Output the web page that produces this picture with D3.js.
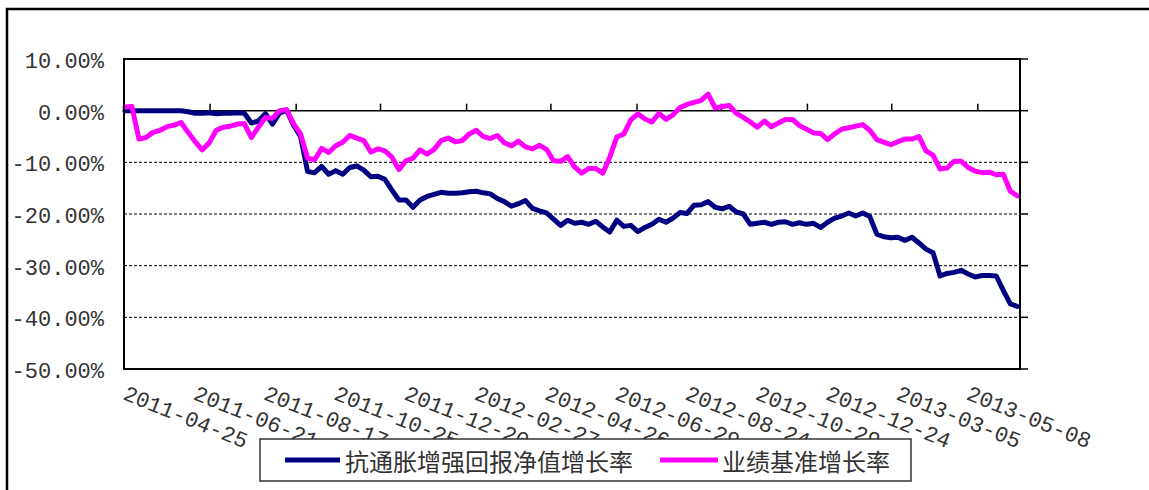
<!DOCTYPE html>
<html>
<head>
<meta charset="utf-8">
<script src="https://cdn.jsdelivr.net/npm/d3@7/dist/d3.min.js"></script>
<style>
  body { margin: 0; background: #fff; }
  svg { display: block; }
</style>
</head>
<body>
<div id="chart"></div>
<script>
// series names (legend)
const seriesNames = ['抗通胀增强回报净值增长率', '业绩基准增长率'];
const seriesColors = ['#000080', '#ff00ff'];

// category axis: trading days, a label every 40 days
const dateLabels = [
  '2011-04-25', '2011-06-21', '2011-08-17', '2011-10-25', '2011-12-20',
  '2012-02-27', '2012-04-26', '2012-06-29', '2012-08-24', '2012-10-29',
  '2012-12-24', '2013-03-05', '2013-05-08'
];
const N_DAYS = 510;
const LABEL_EVERY = 40;
const SAMPLE_EVERY = 4;
const tickDays = [49, 98, 146, 195, 243, 292, 340, 389, 437, 486];

const yTicks = [10, 0, -10, -20, -30, -40, -50];

// growth in %, one value every 4 trading days
const navGrowth = [
  0, 0, 0, 0, 0, 0, 0, 0, 0, -0.2,
  -0.5, -0.5, -0.4, -0.6, -0.5, -0.5, -0.4, -0.5, -2.4, -2.0,
  -0.6, -2.6, -0.5, 0.1, -2.8, -5, -11.8, -12, -10.8, -12.3,
  -11.6, -12.3, -11, -10.7, -11.5, -12.8, -12.7, -13.3, -15.4, -17.3,
  -17.3, -18.7, -17.3, -16.6, -16.2, -15.8, -16, -16, -15.9, -15.7,
  -15.6, -15.9, -16.1, -17, -17.6, -18.5, -18, -17.4, -18.9, -19.4,
  -19.8, -21, -22.2, -21.2, -21.8, -21.6, -22, -21.4, -22.5, -23.5,
  -21.2, -22.4, -22.2, -23.4, -22.6, -22, -21, -21.6, -20.8, -19.7,
  -19.9, -18.3, -18.2, -17.6, -18.7, -19, -18.5, -19.6, -20, -22,
  -21.8, -21.6, -22, -21.6, -21.5, -22, -21.7, -22, -21.8, -22.6,
  -21.6, -20.8, -20.4, -19.8, -20.4, -19.8, -20.5, -23.9, -24.4, -24.6,
  -24.5, -25.1, -24.5, -25.6, -26.8, -27.5, -32, -31.5, -31.3, -30.9,
  -31.6, -32.2, -31.9, -31.9, -32, -34.8, -37.4, -37.9
];
const benchGrowth = [
  0.7, 0.8, -5.5, -5.2, -4.2, -3.8, -3.1, -2.8, -2.3, -4.2,
  -6, -7.6, -6.2, -3.8, -3.2, -3, -2.6, -2.5, -5.2, -3.2,
  -1.3, -1.5, 0, 0.2, -2.5, -4.5, -9.2, -9.5, -7.3, -8.1,
  -6.8, -6.1, -4.8, -5.3, -5.8, -8, -7.4, -7.8, -9, -11.4,
  -9.7, -9.2, -7.6, -8.4, -7.5, -5.8, -5.3, -6, -5.8, -4.5,
  -3.8, -5, -5.4, -4.8, -6.2, -6.8, -5.9, -7, -7.4, -6.7,
  -7.5, -9.7, -9.8, -8.9, -10.9, -12.1, -11.2, -11.2, -12.1, -9,
  -5.1, -4.5, -1.8, -0.6, -1.6, -2.2, -0.5, -1.7, -0.8, 0.6,
  1.2, 1.6, 2.0, 3.2, 0.5, 0.8, 1.0, -0.5, -1.3, -2.2,
  -3.2, -2, -3.1, -2.4, -1.7, -1.7, -2.9, -3.6, -4.3, -4.4,
  -5.6, -4.5, -3.6, -3.3, -3, -2.7, -3.8, -5.6, -6.1, -6.6,
  -6, -5.5, -5.5, -5, -7.8, -8.6, -11.3, -11.1, -9.8, -9.8,
  -11, -11.7, -12, -11.9, -12.4, -12.3, -15.6, -16.5
];

const width = 1149;
const height = 490;
const plot = { left: 124, top: 59, right: 1020, bottom: 369 };
const font = '"Liberation Mono", monospace';

const svg = d3.select('#chart')
  .append('svg')
  .attr('width', width)
  .attr('height', height);

// outer frame
svg.append('rect')
  .attr('x', 7).attr('y', 9)
  .attr('width', 1170).attr('height', 520)
  .attr('fill', 'none')
  .attr('stroke', '#000')
  .attr('stroke-width', 2.5);

const x = d3.scaleLinear()
  .domain([0, N_DAYS])
  .range([plot.left, plot.right]);

const y = d3.scaleLinear()
  .domain([-50, 10])
  .range([plot.bottom, plot.top]);

// dashed gridlines
svg.append('g')
  .selectAll('line')
  .data(yTicks.filter(v => v < 0 && v > -50))
  .enter()
  .append('line')
  .attr('x1', plot.left).attr('x2', plot.right)
  .attr('y1', d => y(d)).attr('y2', d => y(d))
  .attr('stroke', '#000')
  .attr('stroke-width', 1)
  .attr('stroke-dasharray', '3,2');

// category axis at 0%
svg.append('line')
  .attr('x1', plot.left).attr('x2', plot.right)
  .attr('y1', y(0)).attr('y2', y(0))
  .attr('stroke', '#000')
  .attr('stroke-width', 1.5);

svg.append('g')
  .selectAll('line')
  .data(tickDays)
  .enter()
  .append('line')
  .attr('x1', d => x(d)).attr('x2', d => x(d))
  .attr('y1', y(0)).attr('y2', y(0) - 7)
  .attr('stroke', '#000')
  .attr('stroke-width', 1.5);

// value ticks on the right edge
svg.append('g')
  .selectAll('line')
  .data(yTicks)
  .enter()
  .append('line')
  .attr('x1', plot.right).attr('x2', plot.right + 8)
  .attr('y1', d => y(d)).attr('y2', d => y(d))
  .attr('stroke', '#000')
  .attr('stroke-width', 1.5);

// value labels
svg.append('g')
  .selectAll('text')
  .data(yTicks)
  .enter()
  .append('text')
  .attr('x', 104)
  .attr('y', d => y(d) + 9)
  .attr('text-anchor', 'end')
  .attr('font-family', font)
  .attr('font-size', 22)
  .attr('fill', '#333')
  .text(d => d.toFixed(2) + '%');

// series
const line = d3.line()
  .x((d, i) => x(i * SAMPLE_EVERY + 0.5))
  .y(d => y(d));

[navGrowth, benchGrowth].forEach((values, k) => {
  svg.append('path')
    .datum(values)
    .attr('d', line)
    .attr('fill', 'none')
    .attr('stroke', seriesColors[k])
    .attr('stroke-width', 5)
    .attr('stroke-linejoin', 'round')
    .attr('stroke-linecap', 'round');
});

// plot border
svg.append('rect')
  .attr('x', plot.left).attr('y', plot.top)
  .attr('width', plot.right - plot.left)
  .attr('height', plot.bottom - plot.top)
  .attr('fill', 'none')
  .attr('stroke', '#000')
  .attr('stroke-width', 2);

// date labels, slanted
svg.append('g')
  .selectAll('text')
  .data(dateLabels)
  .enter()
  .append('text')
  .attr('transform', (d, i) =>
    'translate(' + (x(i * LABEL_EVERY + 0.5) - 3) + ',399) rotate(22)')
  .attr('font-family', font)
  .attr('font-size', 22)
  .attr('fill', '#333')
  .text(d => d);

// legend
const legend = svg.append('g');
legend.append('rect')
  .attr('x', 260).attr('y', 439)
  .attr('width', 651).attr('height', 42)
  .attr('fill', '#fff')
  .attr('stroke', '#333')
  .attr('stroke-width', 1.5);

const legendItems = [
  { x1: 285, x2: 340, tx: 345 },
  { x1: 660, x2: 718, tx: 722 }
];
legendItems.forEach((it, k) => {
  legend.append('line')
    .attr('x1', it.x1).attr('x2', it.x2)
    .attr('y1', 460).attr('y2', 460)
    .attr('stroke', seriesColors[k])
    .attr('stroke-width', 5);
  legend.append('text')
    .attr('x', it.tx).attr('y', 471)
    .attr('font-family', '"Noto Sans CJK SC", sans-serif')
    .attr('font-size', 24)
    .attr('fill', '#333')
    .text(seriesNames[k]);
});
</script>
</body>
</html>
